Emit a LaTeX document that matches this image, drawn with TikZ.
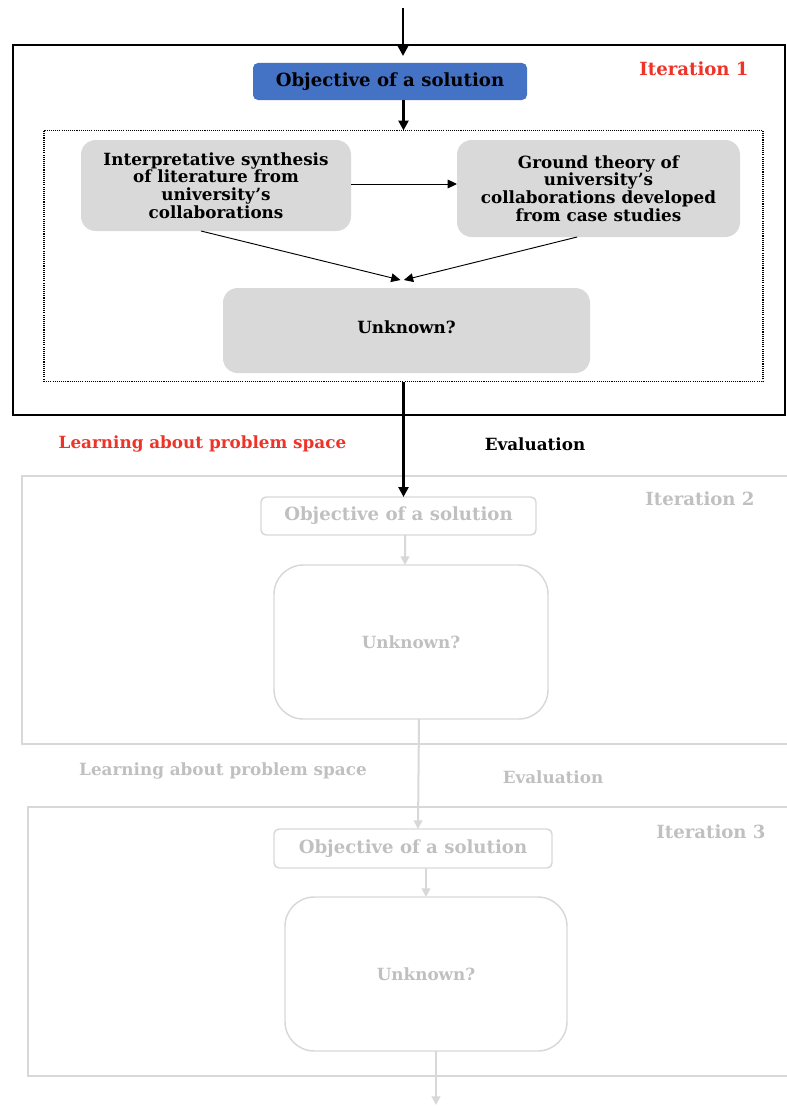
\documentclass[tikz,border=0pt]{standalone}
\usepackage{fontspec}
\setmainfont{DejaVu Serif}
\usetikzlibrary{arrows.meta}
\definecolor{objblue}{RGB}{68,114,196}
\definecolor{boxgray}{RGB}{217,217,217}
\definecolor{fadeline}{RGB}{216,216,216}
\definecolor{fadetext}{RGB}{192,192,192}
\definecolor{itred}{RGB}{238,52,40}
\newcommand{\bodyfont}{\bfseries\fontsize{12.6}{13.3}\selectfont}
\newcommand{\headfont}{\bfseries\fontsize{13.6}{15}\selectfont}
\tikzset{
  lbl/.style={inner sep=0pt, outer sep=0pt, align=center},
  frame/.style={rectangle, inner sep=0pt, outer sep=0pt},
  solidframe/.style={frame, draw=black, line width=1.5pt},
  fadeframe/.style={frame, draw=fadeline, line width=1.4pt},
  dotframe/.style={frame, draw=black, line width=0.8pt, dash pattern=on 0.8pt off 0.8pt},
  objbox/.style={rectangle, rounded corners=3.75pt, inner sep=0pt, outer sep=0pt, align=center, font=\headfont},
  graybox/.style={rectangle, rounded corners=11pt, fill=boxgray, inner sep=0pt, outer sep=0pt, align=center},
  fadebox/.style={rectangle, rounded corners=22pt, draw=fadeline, line width=1.1pt, text=fadetext, inner sep=0pt, outer sep=0pt, align=center},
  thickarrow/.style={draw=black, line width=1.9pt, -{Triangle[length=7.5pt,width=7.5pt]}},
  thinarrow/.style={draw=black, line width=0.7pt, -{Triangle[length=7pt,width=6.5pt]}},
  fadearrow/.style={draw=fadeline, line width=1.5pt, -{Triangle[length=6.5pt,width=6.5pt]}},
}
\begin{document}
\begin{tikzpicture}[x=0.75pt, y=-0.75pt, font=\bodyfont]
\useasboundingbox (0,0) rectangle (786,1106);

% ---------- Iteration 1 ----------
\node[solidframe, minimum width=579pt, minimum height=277.5pt] (it1) at (399,230) {};
\node[lbl, text=itred, font=\headfont] (it1lbl) at (694,69) {Iteration 1};
\node[objbox, fill=objblue, minimum width=205.5pt, minimum height=27.75pt] (obj1) at (390,81.5) {Objective of a solution};
\node[dotframe, minimum width=539.25pt, minimum height=188.25pt] (dot1) at (403.5,256) {};
\node[graybox, minimum width=202.5pt, minimum height=68.25pt] (lit) at (216,185.5)
  {Interpretative synthesis\\of literature from\\university’s\\collaborations};
\node[graybox, minimum width=212.25pt, minimum height=72.75pt] (gt) at (598.5,188.5)
  {Ground theory of\\university’s\\collaborations developed\\from case studies};
\node[graybox, minimum width=275.25pt, minimum height=63.75pt] (unk1) at (406.5,330.5) {\raisebox{4.5pt}{Unknown?}};

\coordinate (in1) at (403,8);
\coordinate (in1end) at (403,56);
\draw[thickarrow] (in1) -- (in1end);
\draw[thickarrow] (dot1.north |- obj1.south) -- (dot1.north);
\draw[thinarrow] (lit.east |- 0,184) -- (gt.west |- 0,184);
\draw[thinarrow] ([xshift=-11.25pt]lit.south) -- ([xshift=-4.5pt,yshift=6pt]unk1.north);
\draw[thinarrow] ([xshift=-16pt]gt.south) -- ([xshift=-2pt,yshift=6pt]unk1.north);

\node[lbl, text=itred] (learn1) at (202.5,444) {Learning about problem space};
\node[lbl, text=black] (eval1) at (535,444) {Evaluation};

% ---------- Iteration 2 ----------
\node[fadeframe, minimum width=583.5pt, minimum height=201pt] (it2) at (411,610) {};
\node[lbl, text=fadetext, font=\headfont] (it2lbl) at (700,499) {Iteration 2};
\node[objbox, draw=fadeline, line width=1.1pt, text=fadetext, minimum width=206.25pt, minimum height=28.5pt] (obj2) at (398.5,516) {Objective of a solution};
\node[fadebox, minimum width=205.5pt, minimum height=115.5pt] (unk2) at (411,642) {Unknown?};

\draw[thickarrow] (dot1.south) -- (dot1.south |- obj2.north);
\draw[fadearrow] ([xshift=4.9pt]obj2.south) -- ([xshift=-4.5pt]unk2.north);

\node[lbl, text=fadetext] (learn2) at (223,771) {Learning about problem space};
\node[lbl, text=fadetext] (eval2) at (553,777) {Evaluation};

% ---------- Iteration 3 ----------
\node[fadeframe, minimum width=579pt, minimum height=201.75pt] (it3) at (414,941.5) {};
\node[lbl, text=fadetext, font=\headfont] (it3lbl) at (711,832) {Iteration 3};
\node[objbox, draw=fadeline, line width=1.1pt, text=fadetext, minimum width=208.5pt, minimum height=29.25pt] (obj3) at (413,848.5) {Objective of a solution};
\node[fadebox, minimum width=211.5pt, minimum height=115.5pt] (unk3) at (426,974) {Unknown?};

\draw[fadearrow] ([xshift=6pt]unk2.south) -- ([xshift=3.75pt]obj3.north);
\draw[fadearrow] (unk3.north |- obj3.south) -- (unk3.north);
\coordinate (out3) at (436,1105);
\draw[fadearrow] (unk3.south -| out3) -- (out3);
\end{tikzpicture}
\end{document}
